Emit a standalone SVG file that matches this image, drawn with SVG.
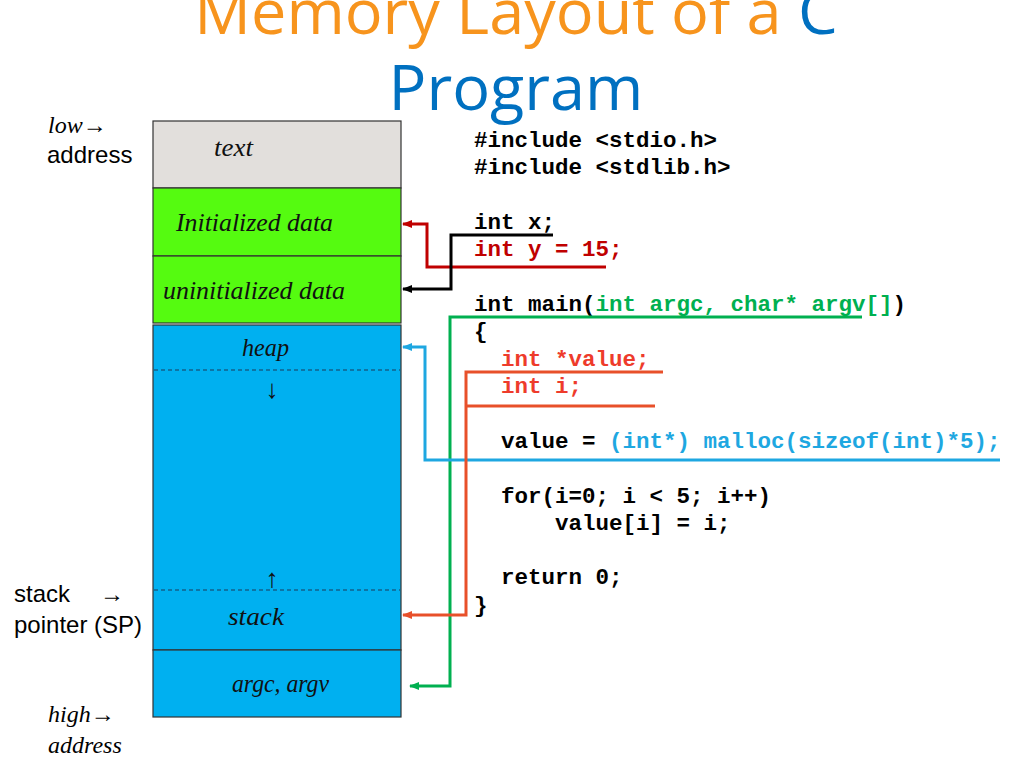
<svg xmlns="http://www.w3.org/2000/svg" width="1024" height="768" viewBox="0 0 1024 768">
<style>
.title{font-family:"Open Sans","Noto Sans",sans-serif;font-size:63px;text-anchor:middle}
.code{font-family:"Liberation Mono","DejaVu Sans Mono",monospace;font-size:22.5px;font-weight:bold;white-space:pre}
.seg{font-family:"Liberation Serif","DejaVu Serif",serif;font-style:italic;font-size:26px;fill:#111}
.side{font-family:"Liberation Sans",Arial,sans-serif;font-size:24px;fill:#000}
.sidei{font-family:"Liberation Serif","DejaVu Serif",serif;font-style:italic;font-size:24px;fill:#000}
.box{stroke:#333;stroke-width:1.2}
.conn{fill:none;stroke-width:3}
.dash{stroke:#1a3a5a;stroke-width:1.2;stroke-dasharray:4 3}
</style>
<defs>
<marker id="aRed" markerWidth="10" markerHeight="10" refX="9" refY="5" orient="auto" markerUnits="userSpaceOnUse"><path d="M0,1 L10,5 L0,9 Z" fill="#c00000"/></marker>
<marker id="aBlack" markerWidth="10" markerHeight="10" refX="9" refY="5" orient="auto" markerUnits="userSpaceOnUse"><path d="M0,1 L10,5 L0,9 Z" fill="#000"/></marker>
<marker id="aGreen" markerWidth="10" markerHeight="10" refX="9" refY="5" orient="auto" markerUnits="userSpaceOnUse"><path d="M0,1 L10,5 L0,9 Z" fill="#00b050"/></marker>
<marker id="aBlue" markerWidth="10" markerHeight="10" refX="9" refY="5" orient="auto" markerUnits="userSpaceOnUse"><path d="M0,1 L10,5 L0,9 Z" fill="#1ea7e1"/></marker>
<marker id="aOrange" markerWidth="10" markerHeight="10" refX="9" refY="5" orient="auto" markerUnits="userSpaceOnUse"><path d="M0,1 L10,5 L0,9 Z" fill="#e8502a"/></marker>
</defs>
<rect width="1024" height="768" fill="#fff"/>

<g id="title">
<text class="title" x="516" y="34"><tspan fill="#f7941d">Memory Layout of a </tspan><tspan fill="#0070c0">C</tspan></text>
<text class="title" x="516" y="110" fill="#0070c0">Program</text>
</g>

<g id="labels">
<text class="sidei" x="48" y="133">low→</text>
<text class="side" x="47" y="163">address</text>
<text class="side" x="14" y="602" font-size="22">stack</text>
<text class="side" x="100" y="602" font-size="22">→</text>
<text class="side" x="14" y="633" font-size="22">pointer (SP)</text>
<text class="sidei" x="48" y="722">high→</text>
<text class="sidei" x="48" y="753">address</text>
</g>

<g id="seg-text"><rect class="box" x="153" y="121" width="248" height="67" fill="#e2dfdc"/><text class="seg" x="214" y="156" textLength="39" lengthAdjust="spacingAndGlyphs">text</text></g>
<g id="seg-init"><rect class="box" x="153" y="188" width="248" height="68" fill="#55fb10"/><text class="seg" x="176" y="231" textLength="157" lengthAdjust="spacingAndGlyphs">Initialized data</text></g>
<g id="seg-uninit"><rect class="box" x="153" y="256" width="248" height="67" fill="#55fb10"/><text class="seg" x="163" y="299" textLength="182" lengthAdjust="spacingAndGlyphs">uninitialized data</text></g>
<g id="seg-heap"><rect class="box" x="153" y="325" width="248" height="325" fill="#00b0f0"/>
<text class="seg" x="242" y="356" textLength="47" lengthAdjust="spacingAndGlyphs">heap</text>
<line class="dash" x1="154" y1="370" x2="400" y2="370"/>
<text class="seg" x="272" y="398" text-anchor="middle">↓</text>
<line class="dash" x1="154" y1="590" x2="400" y2="590"/>
<text class="seg" x="272" y="587" text-anchor="middle">↑</text>
</g>
<g id="seg-stack"><text class="seg" x="228" y="625" textLength="56" lengthAdjust="spacingAndGlyphs">stack</text></g>
<g id="seg-args"><rect class="box" x="153" y="650" width="248" height="67" fill="#00b0f0"/><text class="seg" x="232" y="692" textLength="97" lengthAdjust="spacingAndGlyphs">argc, argv</text></g>

<g id="code" class="code">
<text x="474" y="147">#include &lt;stdio.h&gt;</text>
<text x="474" y="174">#include &lt;stdlib.h&gt;</text>
<text x="474" y="229">int x;</text>
<text x="474" y="256" fill="#c00000">int y = 15;</text>
<text x="474" y="311">int main(<tspan fill="#00b050">int argc, char* argv[]</tspan>)</text>
<text x="474" y="338">{</text>
<text x="501" y="366" fill="#ee3b2b">int *value;</text>
<text x="501" y="393" fill="#ee3b2b">int i;</text>
<text x="501" y="448">value = <tspan fill="#1ea7e1">(int*) malloc(sizeof(int)*5);</tspan></text>
<text x="501" y="503">for(i=0; i &lt; 5; i++)</text>
<text x="555" y="530">value[i] = i;</text>
<text x="501" y="584">return 0;</text>
<text x="474" y="612">}</text>
</g>

<g id="connectors">
<path class="conn" stroke="#c00000" d="M606,267 H427 V224 H403" marker-end="url(#aRed)"/>
<path class="conn" stroke="#000" d="M553,235 H451 V289 H403" marker-end="url(#aBlack)"/>
<path class="conn" stroke="#00b050" d="M862,317 H450 V686 H410" marker-end="url(#aGreen)"/>
<path class="conn" stroke="#1ea7e1" d="M1000,460 H425 V347 H403" marker-end="url(#aBlue)"/>
<path class="conn" stroke="#e8502a" d="M663,372 H466 V615 H403" marker-end="url(#aOrange)"/>
<path class="conn" stroke="#e8502a" d="M655,406 H466"/>
</g>
</svg>
